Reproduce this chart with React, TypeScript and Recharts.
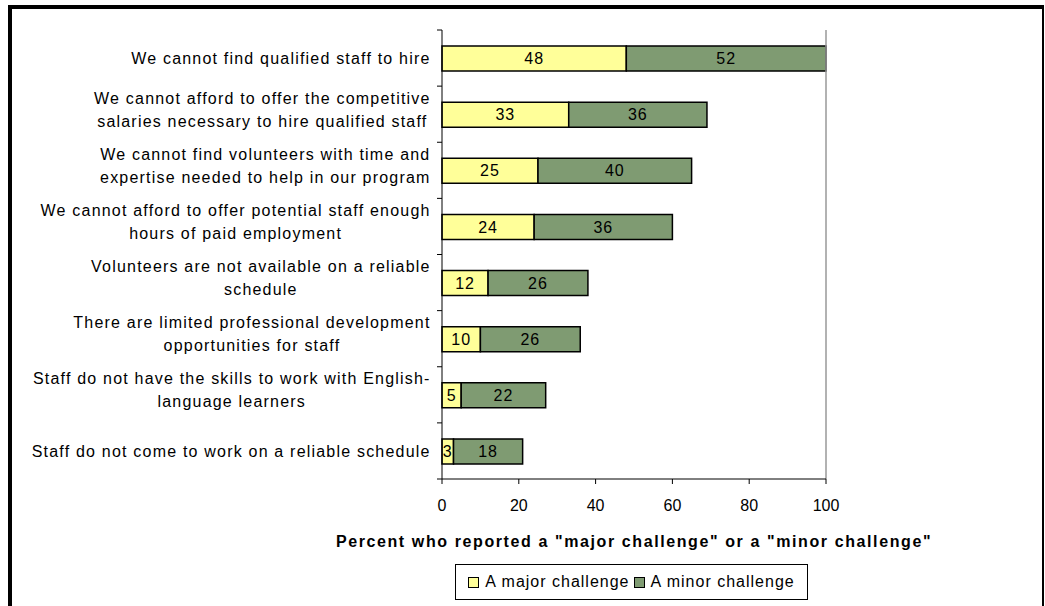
import React from "react";
import {
  BarChart,
  Bar,
  XAxis,
  YAxis,
  LabelList,
  ReferenceLine,
  Label,
} from "recharts";

const categories = [
  "We cannot find qualified staff to hire",
  "We cannot afford to offer the competitive\nsalaries necessary to hire qualified staff",
  "We cannot find volunteers with time and\nexpertise needed to help in our program",
  "We cannot afford to offer potential staff enough\nhours of paid employment",
  "Volunteers are not available on a reliable\nschedule",
  "There are limited professional development\nopportunities for staff",
  "Staff do not have the skills to work with English-\nlanguage learners",
  "Staff do not come to work on a reliable schedule",
];
const majorValues = [48, 33, 25, 24, 12, 10, 5, 3];
const minorValues = [52, 36, 40, 36, 26, 26, 22, 18];
const xTicks = [0, 20, 40, 60, 80, 100];

const data = categories.map((name, i) => ({
  name,
  major: majorValues[i],
  minor: minorValues[i],
}));

const FONT = "'Liberation Sans', Arial, sans-serif";
const YELLOW = "#FFFF99";
const GREEN = "#7F9B72";
const SPACING = 1;
const LABEL_SPACING = 1.2;

const W = 1045;
const H = 606;
const PLOT_LEFT = 442;
const PLOT_TOP = 30;
const PLOT_RIGHT = 826;
const PLOT_BOTTOM = 479;
const BAND = (PLOT_BOTTOM - PLOT_TOP) / categories.length;
const LABEL_RIGHT = 430;

let ctx: CanvasRenderingContext2D | null = null;
function textWidth(s: string) {
  if (!ctx) ctx = document.createElement("canvas").getContext("2d");
  if (!ctx) return s.length * 8.5;
  ctx.font = `16px ${FONT}`;
  return ctx.measureText(s).width + s.length * LABEL_SPACING;
}

function CategoryTick(props: any) {
  const { y, payload, index } = props;
  const lines: string[] = String(payload.value).split("\n");
  const blockW = Math.max(...lines.map(textWidth));
  const cx = LABEL_RIGHT - blockW / 2;
  const top = y - BAND / 2;
  return (
    <g>
      <line x1={PLOT_LEFT - 5} x2={PLOT_LEFT} y1={top} y2={top} stroke="#000" />
      {index === categories.length - 1 && (
        <line
          x1={PLOT_LEFT - 5}
          x2={PLOT_LEFT}
          y1={top + BAND}
          y2={top + BAND}
          stroke="#000"
        />
      )}
      {lines.map((ln, i) => (
        <text
          key={i}
          x={cx + LABEL_SPACING / 2}
          y={lines.length === 1 ? y : y - 16 + i * 23}
          dy="0.35em"
          textAnchor="middle"
          fontSize={16}
          letterSpacing={LABEL_SPACING}
          fontFamily={FONT}
          fill="#000"
        >
          {ln}
        </text>
      ))}
    </g>
  );
}

function LegendBox() {
  const items = [
    { label: "A major challenge", color: YELLOW },
    { label: "A minor challenge", color: GREEN },
  ];
  return (
    <div
      style={{
        position: "absolute",
        left: 455,
        top: 564,
        border: "1px solid #000",
        width: 353,
        height: 36,
        boxSizing: "border-box",
        display: "flex",
        alignItems: "center",
        justifyContent: "center",
        fontFamily: FONT,
        fontSize: 16,
        letterSpacing: SPACING,
        color: "#000",
        background: "#fff",
      }}
    >
      {items.map((it) => (
        <span
          key={it.label}
          style={{ display: "flex", alignItems: "center", margin: "0 2px" }}
        >
          <span
            style={{
              width: 9,
              height: 9,
              border: "1px solid #000",
              background: it.color,
              marginRight: 6,
              display: "inline-block",
            }}
          />
          {it.label}
        </span>
      ))}
    </div>
  );
}

export default function App() {
  return (
    <div
      style={{
        position: "absolute",
        left: 0,
        top: 0,
        width: W,
        height: H,
        background: "#fff",
        overflow: "hidden",
      }}
    >
      <div
        style={{
          position: "absolute",
          left: 8,
          top: 5,
          width: 1044 - 8,
          height: 620,
          borderLeft: "4px solid #000",
          borderTop: "4px solid #000",
          borderRight: "2px solid #000",
          boxSizing: "border-box",
        }}
      />
      <div style={{ position: "absolute", left: 0, top: 0 }}>
        <BarChart
          width={W}
          height={H}
          data={data}
          layout="vertical"
          barSize={25}
          margin={{ top: PLOT_TOP, right: W - PLOT_RIGHT, bottom: 0, left: 0 }}
        >
          <XAxis
            type="number"
            domain={[0, 100]}
            ticks={xTicks}
            interval={0}
            tick={{ fontSize: 16, fill: "#000", fontFamily: FONT }}
            tickLine={{ stroke: "#000" }}
            axisLine={{ stroke: "#000" }}
            tickSize={5}
            tickMargin={16}
            height={H - PLOT_BOTTOM}
          >
            <Label
              content={() => (
                <text
                  x={(PLOT_LEFT + PLOT_RIGHT) / 2}
                  y={541}
                  dy="0.35em"
                  textAnchor="middle"
                  fontSize={16}
                  fontWeight="bold"
                  letterSpacing={1.6}
                  fontFamily={FONT}
                  fill="#000"
                >
                  Percent who reported a "major challenge" or a "minor challenge"
                </text>
              )}
            />
          </XAxis>
          <XAxis
            xAxisId="top"
            type="number"
            orientation="top"
            domain={[0, 100]}
            tick={false}
            tickLine={false}
            axisLine={{ stroke: "#999", strokeWidth: 1.5 }}
            height={0}
          />
          <YAxis
            type="category"
            dataKey="name"
            width={PLOT_LEFT}
            tick={<CategoryTick />}
            tickLine={false}
            axisLine={{ stroke: "#000" }}
            interval={0}
          />
          <ReferenceLine x={100} stroke="#999" strokeWidth={1.5} />
          <Bar
            dataKey="major"
            stackId="a"
            fill={YELLOW}
            stroke="#000"
            strokeWidth={1.5}
            isAnimationActive={false}
          >
            <LabelList
              dataKey="major"
              position="center"
              fill="#000"
              fontSize={16}
              letterSpacing={SPACING}
              fontFamily={FONT}
            />
          </Bar>
          <Bar
            dataKey="minor"
            stackId="a"
            fill={GREEN}
            stroke="#000"
            strokeWidth={1.5}
            isAnimationActive={false}
          >
            <LabelList
              dataKey="minor"
              position="center"
              fill="#000"
              fontSize={16}
              letterSpacing={SPACING}
              fontFamily={FONT}
            />
          </Bar>
        </BarChart>
      </div>
      <LegendBox />
    </div>
  );
}
